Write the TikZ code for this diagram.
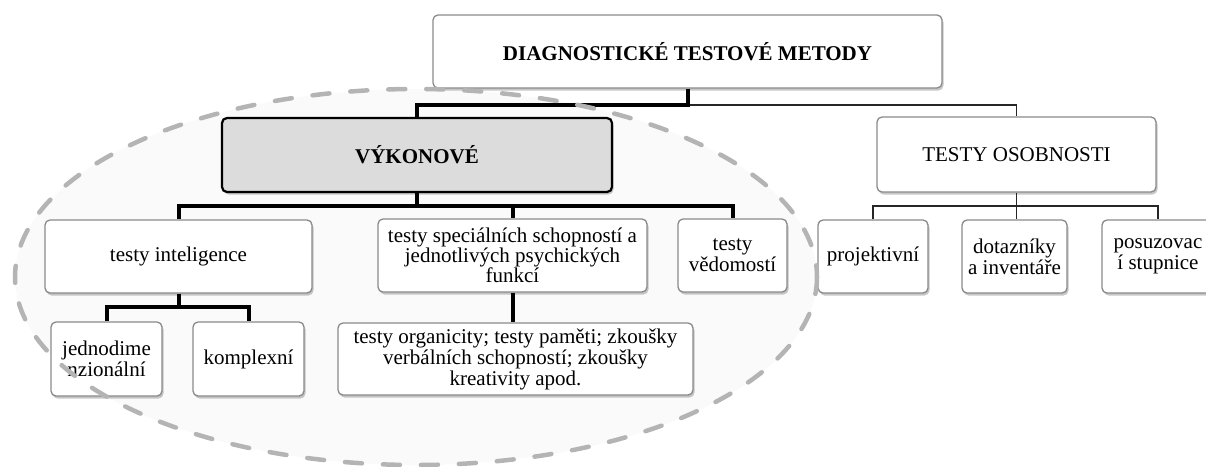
\documentclass[tikz,border=0pt]{standalone}
\usepackage{fontspec}
\setmainfont{Liberation Serif}
\usetikzlibrary{shadows}
\definecolor{vykfill}{HTML}{DCDCDC}
\definecolor{boxline}{HTML}{8A8A8A}
\definecolor{ellcol}{HTML}{B4B4B4}
\begin{document}
\begin{tikzpicture}[x=1pt,y=-1pt,
  box/.style={draw=boxline, line width=1.3pt, rounded corners=5pt, fill=white,
    inner sep=0pt, align=center,
    drop shadow={shadow xshift=1.5pt, shadow yshift=-2.5pt, fill=black!40, opacity=0.55},
    font=\fontsize{21}{21}\selectfont},
  mainbox/.style={box, font=\fontsize{21}{21}\selectfont\bfseries},
  grey/.style={mainbox, fill=vykfill, draw=black, line width=2.2pt},
  thickline/.style={draw=black, line width=4pt},
  thinline/.style={draw=black!85, line width=1.6pt}
]
\useasboundingbox (0,0) rectangle (1206,466);
% faint fill inside the dashed ellipse
\fill[black!2] (416,277) ellipse [x radius=401, y radius=188];

% nodes
\node[mainbox, minimum width=509pt, minimum height=73pt] (top) at (687.5,51.5) {DIAGNOSTICKÉ TESTOVÉ METODY};
\node[grey, minimum width=390pt, minimum height=74pt] (vyk) at (417,155) {VÝKONOVÉ};
\node[box, minimum width=279pt, minimum height=75pt] (osob) at (1016.5,154.5) {TESTY OSOBNOSTI};

\node[box, minimum width=267pt, minimum height=73pt] (intel) at (178.5,256.5) {testy inteligence};
\node[box, minimum width=269pt, minimum height=73pt, font=\fontsize{21}{20}\selectfont] (spec) at (512.5,255.5) {testy speciálních schopností a\\jednotlivých psychických\\funkcí};
\node[box, minimum width=109pt, minimum height=73pt] (ved) at (732.5,255.5) {testy\\vědomostí};

\node[box, minimum width=111pt, minimum height=74pt] (jedn) at (106.5,359) {jednodime\\nzionální};
\node[box, minimum width=111pt, minimum height=74pt] (kompl) at (248.5,359) {komplexní};
\node[box, minimum width=355pt, minimum height=72pt] (org) at (515.5,359) {testy organicity; testy paměti; zkoušky\\verbálních schopností; zkoušky\\kreativity apod.};

\node[box, minimum width=110pt, minimum height=73pt] (proj) at (873,256.5) {projektivní};
\node[box, minimum width=105pt, minimum height=73pt] (dot) at (1014.5,256.5) {dotazníky\\a inventáře};
\node[box, minimum width=112pt, minimum height=73pt] (posuz) at (1158,256.5) {posuzovac\\í stupnice};

% junctions
\coordinate (j1) at (687.5,105);
\coordinate (j2) at (417,206);
\coordinate (j3) at (178.5,307);
\coordinate (j4) at (1016.5,206);

% connectors
\draw[thinline] (j1) -| (osob.north);
\draw[thickline] (top.south) -- (j1) -| (vyk.north);
\draw[thickline] (intel.north) |- (j2) -| (ved.north);
\draw[thickline] (vyk.south) -- (j2) -| (spec.north);
\draw[thickline] (intel.south) -- (j3);
\draw[thickline] (jedn.north) |- (j3) -| (kompl.north);
\draw[thickline] (spec.south) -- (spec.south |- org.north);
\draw[thinline] (osob.south) -- (j4);
\draw[thinline] (proj.north) |- (j4) -| (posuz.north);
\draw[thinline] (j4) -- (j4 |- dot.north);

% dashed ellipse on top
\draw[ellcol, line width=4.5pt, line cap=round, dash pattern=on 17pt off 21pt]
  (416,277) ellipse [x radius=401, y radius=188];
\end{tikzpicture}
\end{document}
